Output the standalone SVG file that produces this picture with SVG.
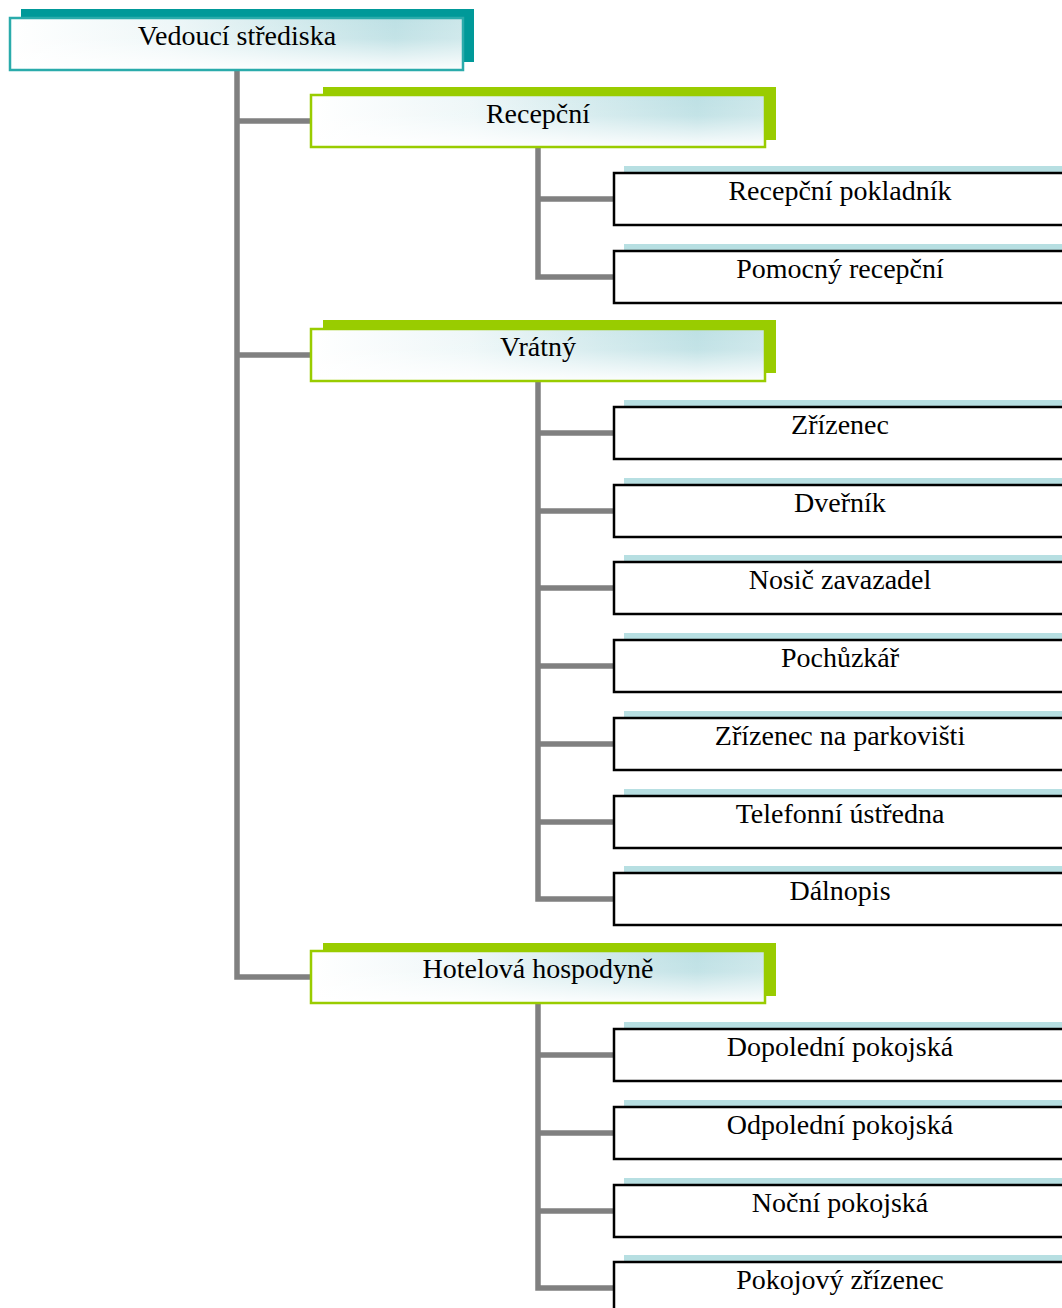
<svg xmlns="http://www.w3.org/2000/svg" width="1062" height="1308" viewBox="0 0 1062 1308">
<defs>
<linearGradient id="gh" x1="0" y1="0" x2="1" y2="0">
<stop offset="0" stop-color="#ffffff"/>
<stop offset="0.35" stop-color="#eef7f8"/>
<stop offset="0.85" stop-color="#bde0e4"/>
<stop offset="1" stop-color="#cce7ea"/>
</linearGradient>
<linearGradient id="gv" x1="0" y1="0" x2="0" y2="1">
<stop offset="0" stop-color="#ffffff" stop-opacity="0"/>
<stop offset="0.4" stop-color="#ffffff" stop-opacity="0.1"/>
<stop offset="1" stop-color="#ffffff" stop-opacity="0.95"/>
</linearGradient>
<style>
.t{font-family:"Liberation Serif","Times New Roman",serif;font-size:28px;fill:#000;text-anchor:middle}
.sh0{fill:#009999}
.sh1{fill:#99cc00}
.sh2{fill:#b7dfe2}
.b0{stroke:#2aabab;stroke-width:2.5}
.b1{stroke:#99cc00;stroke-width:2.5}
.leaf{fill:#fff;stroke:#000;stroke-width:2.5}
.c{fill:none;stroke:#808080;stroke-width:5.5;stroke-linejoin:miter}
</style>
</defs>
<g id="connectors">
<path class="c" d="M237 69 V977 H311 M237 121 H311 M237 355 H311"/>
<path class="c" d="M538 147 V277 H614 M538 199 H614"/>
<path class="c" d="M538 381 V899 H614 M538 433 H614 M538 511 H614 M538 588 H614 M538 666 H614 M538 744 H614 M538 822 H614"/>
<path class="c" d="M538 1003 V1288 H614 M538 1055 H614 M538 1133 H614 M538 1211 H614"/>
</g>
<g id="n0">
<rect class="sh0" x="21" y="9" width="453" height="53"/>
<rect x="10" y="18" width="453" height="52" fill="url(#gh)"/>
<rect x="10" y="18" width="453" height="52" fill="url(#gv)" class="b0"/>
<text class="t" x="237" y="45">Vedoucí střediska</text>
</g>
<g id="n1">
<rect class="sh1" x="323" y="87" width="453" height="53"/>
<rect x="311" y="95" width="454" height="52" fill="url(#gh)"/>
<rect x="311" y="95" width="454" height="52" fill="url(#gv)" class="b1"/>
<text class="t" x="538" y="123">Recepční</text>
</g>
<g id="n2">
<rect class="sh1" x="323" y="320" width="453" height="53"/>
<rect x="311" y="329" width="454" height="52" fill="url(#gh)"/>
<rect x="311" y="329" width="454" height="52" fill="url(#gv)" class="b1"/>
<text class="t" x="538" y="356">Vrátný</text>
</g>
<g id="n3">
<rect class="sh1" x="323" y="943" width="453" height="53"/>
<rect x="311" y="951" width="454" height="52" fill="url(#gh)"/>
<rect x="311" y="951" width="454" height="52" fill="url(#gv)" class="b1"/>
<text class="t" x="538" y="978">Hotelová hospodyně</text>
</g>
<g id="l1"><rect class="sh2" x="624" y="166" width="440" height="8"/><rect class="leaf" x="614" y="173" width="460" height="52"/><text class="t" x="840" y="200">Recepční pokladník</text></g>
<g id="l2"><rect class="sh2" x="624" y="244" width="440" height="8"/><rect class="leaf" x="614" y="251" width="460" height="52"/><text class="t" x="840" y="278">Pomocný recepční</text></g>
<g id="l3"><rect class="sh2" x="624" y="400" width="440" height="8"/><rect class="leaf" x="614" y="407" width="460" height="52"/><text class="t" x="840" y="434">Zřízenec</text></g>
<g id="l4"><rect class="sh2" x="624" y="478" width="440" height="8"/><rect class="leaf" x="614" y="485" width="460" height="52"/><text class="t" x="840" y="512">Dveřník</text></g>
<g id="l5"><rect class="sh2" x="624" y="555" width="440" height="8"/><rect class="leaf" x="614" y="562" width="460" height="52"/><text class="t" x="840" y="589">Nosič zavazadel</text></g>
<g id="l6"><rect class="sh2" x="624" y="633" width="440" height="8"/><rect class="leaf" x="614" y="640" width="460" height="52"/><text class="t" x="840" y="667">Pochůzkář</text></g>
<g id="l7"><rect class="sh2" x="624" y="711" width="440" height="8"/><rect class="leaf" x="614" y="718" width="460" height="52"/><text class="t" x="840" y="745">Zřízenec na parkovišti</text></g>
<g id="l8"><rect class="sh2" x="624" y="789" width="440" height="8"/><rect class="leaf" x="614" y="796" width="460" height="52"/><text class="t" x="840" y="823">Telefonní ústředna</text></g>
<g id="l9"><rect class="sh2" x="624" y="866" width="440" height="8"/><rect class="leaf" x="614" y="873" width="460" height="52"/><text class="t" x="840" y="900">Dálnopis</text></g>
<g id="l10"><rect class="sh2" x="624" y="1022" width="440" height="8"/><rect class="leaf" x="614" y="1029" width="460" height="52"/><text class="t" x="840" y="1056">Dopolední pokojská</text></g>
<g id="l11"><rect class="sh2" x="624" y="1100" width="440" height="8"/><rect class="leaf" x="614" y="1107" width="460" height="52"/><text class="t" x="840" y="1134">Odpolední pokojská</text></g>
<g id="l12"><rect class="sh2" x="624" y="1178" width="440" height="8"/><rect class="leaf" x="614" y="1185" width="460" height="52"/><text class="t" x="840" y="1212">Noční pokojská</text></g>
<g id="l13"><rect class="sh2" x="624" y="1255" width="440" height="8"/><rect class="leaf" x="614" y="1262" width="460" height="52"/><text class="t" x="840" y="1289">Pokojový zřízenec</text></g>
</svg>
